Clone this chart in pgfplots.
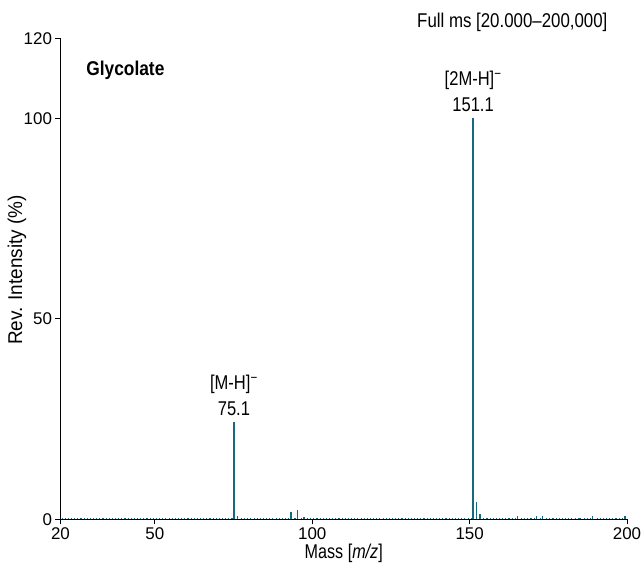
\documentclass[border=0pt]{standalone}
\usepackage{fontspec}
\setmainfont{Liberation Sans}
\usepackage{graphicx}
\usepackage{pgfplots}
\usepackage{pgfplotstable}
\pgfplotsset{compat=1.18}
\definecolor{peak}{RGB}{24,104,128}
\newcommand{\cnd}[2]{\scalebox{#1}[1]{#2}}

\pgfplotstableread{
mz int
75.1 24.2
76.2 0.7
93.3 1.8
95.3 2.3
97.3 0.5
151.1 100
152.2 4.2
153.3 1.25
165.2 0.7
171.2 0.7
173.1 0.9
185.1 0.4
189.0 0.7
199.3 0.9
}\peaks

\pgfplotstableread{
mz int
20.5 0.3
21.5 0.2
22.5 0.3
23.5 0.25
24.5 0.3
25.5 0.2
26.5 0.35
27.5 0.25
28.5 0.3
29.5 0.2
30.5 0.3
31.5 0.25
32.5 0.3
33.5 0.2
34.5 0.3
35.5 0.35
36.5 0.25
37.5 0.3
38.5 0.2
39.5 0.3
40.5 0.25
41.5 0.3
42.5 0.2
43.5 0.3
44.5 0.25
45.5 0.35
46.5 0.2
47.5 0.3
48.5 0.25
49.5 0.3
50.5 0.2
51.5 0.3
52.5 0.25
53.5 0.3
54.5 0.2
55.5 0.35
56.5 0.3
57.5 0.25
58.5 0.3
59.5 0.2
60.5 0.3
61.5 0.25
62.5 0.3
63.5 0.2
64.5 0.3
65.5 0.25
66.5 0.3
67.5 0.35
68.5 0.2
69.5 0.3
70.5 0.25
71.5 0.3
72.5 0.2
73.5 0.3
74.5 0.25
77.5 0.3
78.5 0.2
79.5 0.3
80.5 0.25
81.5 0.3
82.5 0.2
83.5 0.3
84.5 0.25
85.5 0.35
86.5 0.2
87.5 0.3
88.5 0.25
89.5 0.3
90.5 0.2
91.5 0.3
92.5 0.25
94.5 0.3
96.5 0.25
98.5 0.3
99.5 0.2
100.5 0.3
101.5 0.25
102.5 0.3
103.5 0.2
104.5 0.3
105.5 0.25
106.5 0.3
107.5 0.2
108.5 0.35
109.5 0.25
110.5 0.3
111.5 0.2
112.5 0.3
113.5 0.25
114.5 0.3
115.5 0.2
116.5 0.3
117.5 0.25
118.5 0.3
119.5 0.4
120.5 0.25
121.5 0.3
122.5 0.2
123.5 0.3
124.5 0.25
125.5 0.3
126.5 0.2
127.5 0.3
128.5 0.25
129.5 0.35
130.5 0.2
131.5 0.3
132.5 0.25
133.5 0.3
134.5 0.2
135.5 0.3
136.5 0.25
137.5 0.3
138.5 0.2
139.5 0.3
140.5 0.25
141.5 0.3
142.5 0.2
143.5 0.3
144.5 0.25
145.5 0.3
146.5 0.2
147.5 0.3
148.5 0.25
149.5 0.3
150.5 0.2
154.5 0.3
155.5 0.25
156.5 0.3
157.5 0.2
158.5 0.3
159.5 0.25
160.5 0.3
161.5 0.2
162.5 0.3
163.5 0.25
164.5 0.3
166.5 0.25
167.5 0.3
168.5 0.2
169.5 0.3
170.5 0.25
172.5 0.3
174.5 0.25
175.5 0.3
176.5 0.2
177.5 0.3
178.5 0.25
179.5 0.3
180.5 0.2
181.5 0.3
182.5 0.25
183.5 0.3
184.5 0.2
186.5 0.3
187.5 0.25
188.5 0.3
190.5 0.25
191.5 0.3
192.5 0.2
193.5 0.3
194.5 0.25
195.5 0.3
196.5 0.2
197.5 0.3
198.5 0.25
}\noise

\begin{document}
\begin{tikzpicture}
\begin{axis}[
  scale only axis, width=566.5bp, height=481bp,
  xmin=20, xmax=200, ymin=0, ymax=120,
  axis x line*=bottom, axis y line*=left,
  axis line style={-, line width=0.9bp, black},
  xtick={20,50,100,150,200}, ytick={0,50,100,120},
  tick align=outside, major tick length=5bp,
  tick style={line width=0.9bp, black},
  ticklabel style={font=\fontsize{17}{19}\selectfont},
  /pgf/number format/assume math mode=true,
  xlabel={\cnd{0.81}{Mass [\textit{m/z}]}}, ylabel={\cnd{0.95}{Rev. Intensity (\%)}},
  label style={font=\fontsize{20}{22}\selectfont},
  xlabel style={at={(axis description cs:0.5,-0.0707)},anchor=center},
  ylabel style={at={(axis description cs:-0.077,0.518)},anchor=center},
  clip=false,
]
\addplot[ycomb, peak, line width=1.1bp, mark=none] table[x=mz,y=int] {\noise};
\addplot[ycomb, peak, line width=1.5bp, mark=none] table[x=mz,y=int] {\peaks};
\node[anchor=east, font=\fontsize{20}{22}\selectfont] at (axis cs:194.9,124.1) {\cnd{0.846}{Full ms [20.000–200,000]}};
\node[anchor=west, font=\fontsize{20}{22}\selectfont\bfseries] at (axis cs:27.1,112.1) {\cnd{0.87}{Glycolate}};
\node[font=\fontsize{20}{22}\selectfont] at (axis cs:151.1,109.5) {\cnd{0.83}{[2M-H]\textsuperscript{−}}};
\node[font=\fontsize{20}{22}\selectfont] at (axis cs:151.1,103.4) {\cnd{0.83}{151.1}};
\node[font=\fontsize{20}{22}\selectfont] at (axis cs:75.1,33.6) {\cnd{0.83}{[M-H]\textsuperscript{−}}};
\node[font=\fontsize{20}{22}\selectfont] at (axis cs:75.1,27.5) {\cnd{0.83}{75.1}};
\end{axis}
\pgfresetboundingbox
\path[use as bounding box] ([xshift=-60.5bp,yshift=-46.7bp]current axis.south west) rectangle ++(643bp,566bp);
\end{tikzpicture}
\end{document}
